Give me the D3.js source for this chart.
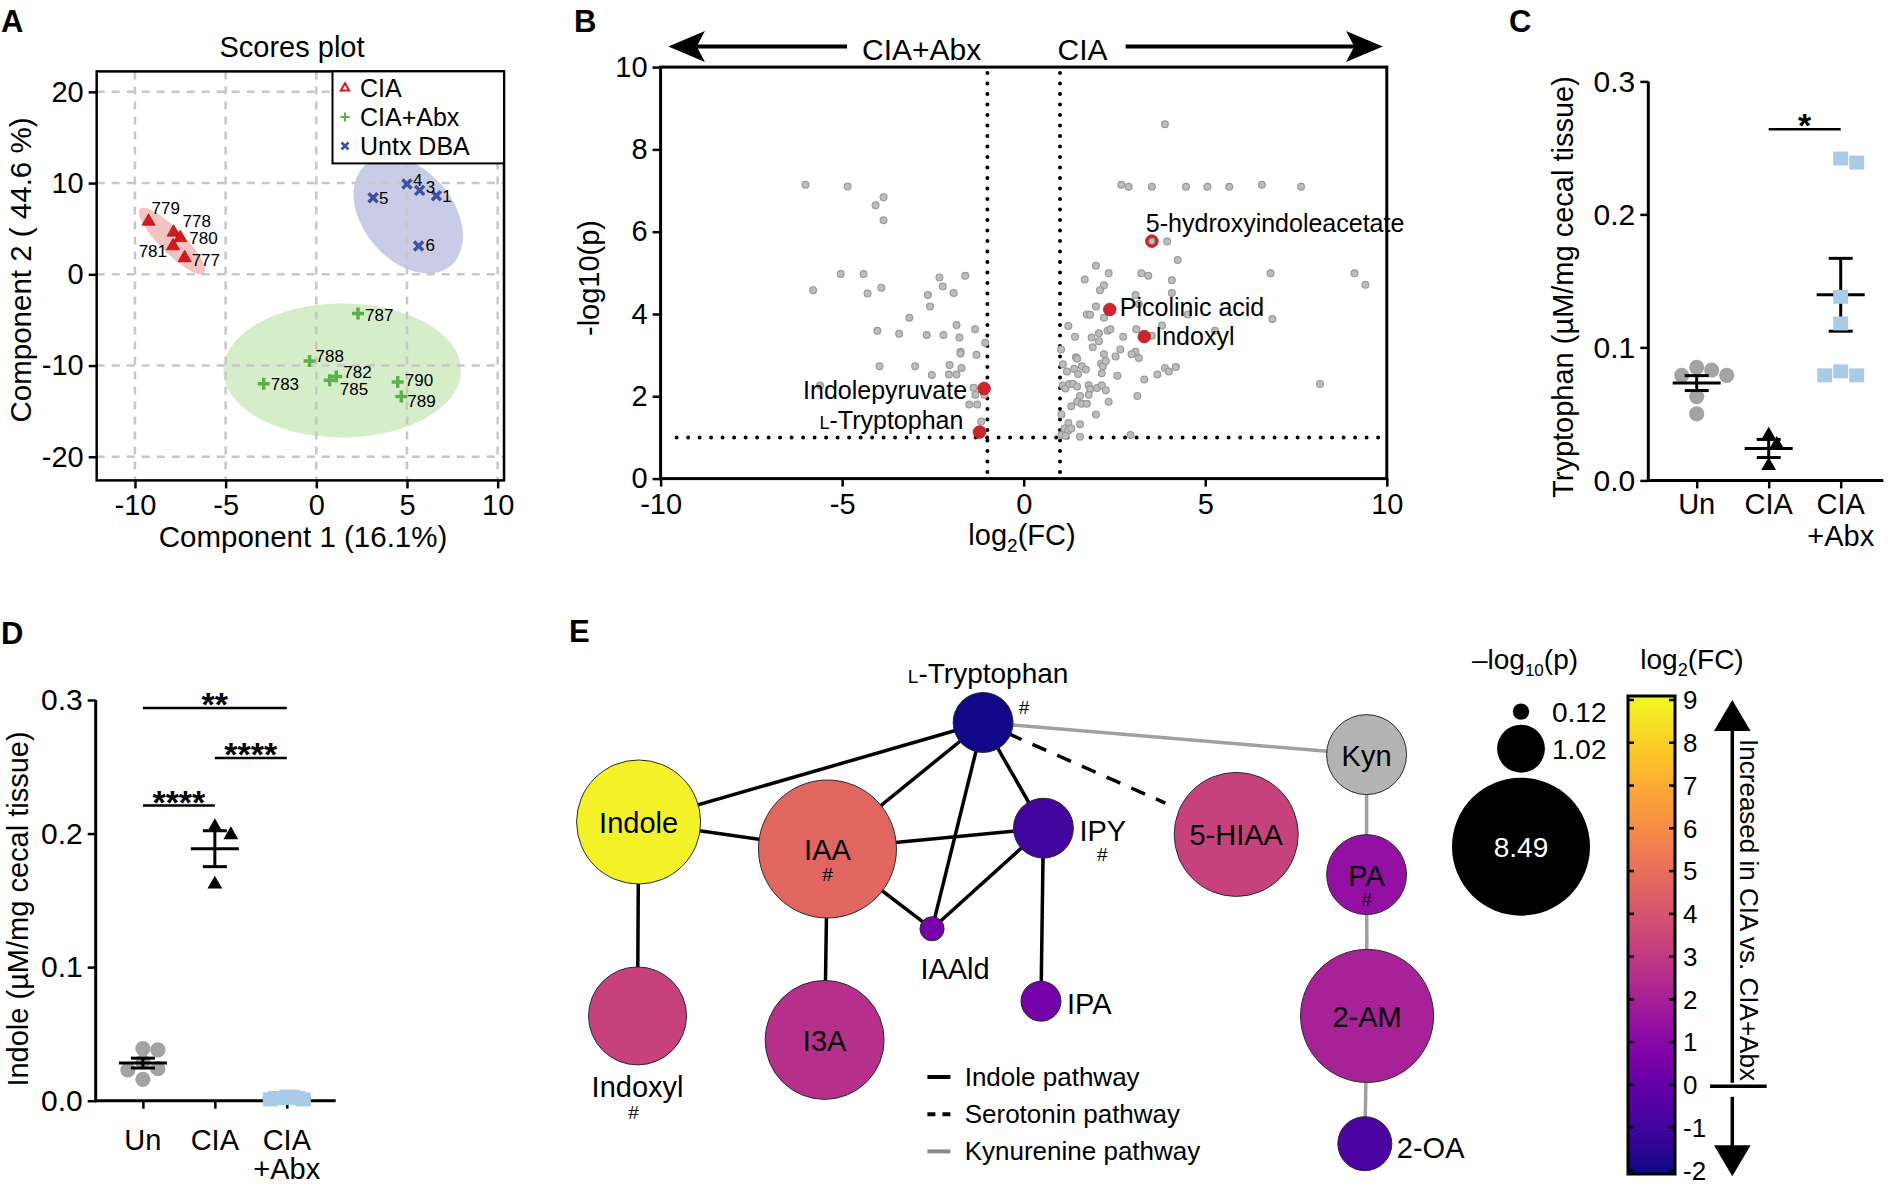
<!DOCTYPE html>
<html><head><meta charset="utf-8">
<script src="https://cdn.jsdelivr.net/npm/d3@7"></script>
<style>
body{margin:0;background:#fff;}
svg{display:block;}
</style></head><body>
<script>
// ===================== DATA =====================
// Panel A: PLS-DA scores
const pcaXTicks = [-10, -5, 0, 5, 10];
const pcaYTicks = [-20, -10, 0, 10, 20];
const pcaCIA  = [{id:"779",x:-9.25,y:5.8},{id:"778",x:-7.87,y:4.6},{id:"780",x:-7.5,y:4.0},{id:"781",x:-7.9,y:3.1},{id:"777",x:-7.26,y:1.8}];
const pcaAbx  = [{id:"787",x:2.3,y:-4.3},{id:"788",x:-0.37,y:-9.5},{id:"782",x:1.1,y:-11.2},{id:"785",x:0.74,y:-11.6},{id:"783",x:-2.9,y:-12.0},{id:"790",x:4.49,y:-11.8},{id:"789",x:4.69,y:-13.4}];
const pcaUntx = [{id:"4",x:5.0,y:9.9},{id:"3",x:5.7,y:9.2},{id:"1",x:6.62,y:8.6},{id:"5",x:3.13,y:8.4},{id:"6",x:5.64,y:3.1}];
// confidence ellipses (data units): centre, semi-axis vectors
const pcaEllipses = [
  {group:"CIA",      c:[-7.96, 3.65], u:[1.765,-3.53], v:[-0.47,-0.93]},
  {group:"Untx DBA", c:[5.07, 6.48],  u:[2.34,-5.54],  v:[-1.90,-3.17]},
  {group:"CIA+Abx",  c:[1.43,-10.54], u:[6.55,0],      v:[0,7.34]}
];
const pcaLegend = ["CIA","CIA+Abx","Untx DBA"];

// Panel B: volcano
const volXTicks = [-10,-5,0,5,10];
const volYTicks = [0,2,4,6,8,10];
const volcanoGray = [
[-6.01,7.14],[-4.85,7.10],[-4.08,6.64],[-3.86,6.84],[-3.86,6.28],[-5.04,4.97],[-4.41,4.97],[-5.80,4.58],[-4.30,4.50],[-3.92,4.64],
[-2.32,4.89],[-1.61,4.93],[-2.23,4.67],[-1.93,4.51],[-2.64,4.46],[-2.58,4.18],[-3.15,3.91],[-4.03,3.59],[-3.43,3.52],[-2.67,3.49],
[-2.21,3.49],[-1.85,3.73],[-1.77,3.43],[-1.34,3.63],[-1.06,3.30],[-1.74,3.08],[-1.74,3.04],[-1.30,3.01],[-3.97,2.73],[-2.99,2.73],
[-2.04,2.76],[-1.71,2.69],[-2.53,2.52],[-2.06,2.53],[-1.85,2.53],[-5.61,2.26],[-1.38,2.21],[-1.33,2.04],[-1.09,2.04],[-1.50,1.80],
[-1.28,1.80],[-1.17,1.39],[-1.14,1.17],
[3.89,8.61],[2.69,7.14],[2.89,7.09],[3.53,7.09],[4.47,7.09],[5.06,7.09],[5.66,7.09],[6.56,7.14],[7.64,7.09],[3.95,5.76],
[4.24,5.31],[1.99,5.17],[2.34,4.99],[3.24,4.99],[3.43,4.93],[4.08,4.82],[1.68,4.84],[2.21,4.70],[2.10,4.58],[3.08,4.46],
[4.08,4.51],[6.80,4.99],[9.11,4.99],[9.41,4.71],[1.99,4.18],[3.17,4.24],[1.74,3.99],[1.83,3.98],[2.21,3.91],[6.85,3.88],
[4.52,3.99],[1.23,3.71],[2.31,3.59],[2.39,3.63],[2.07,3.53],[3.10,3.63],[2.74,3.45],[3.53,3.47],[3.81,3.72],[5.27,3.59],
[1.41,3.45],[1.87,3.43],[2.07,3.34],[1.03,3.14],[1.90,3.19],[2.21,3.02],[2.66,3.14],[3.08,3.08],[2.53,2.97],[2.97,3.02],
[3.17,2.93],[1.08,2.78],[1.44,2.95],[1.47,2.91],[1.60,2.73],[2.13,2.80],[2.18,2.73],[2.26,2.86],[1.19,2.60],[1.39,2.67],
[1.50,2.54],[1.71,2.65],[2.15,2.56],[2.58,2.50],[3.32,2.41],[3.68,2.53],[3.89,2.69],[4.00,2.60],[4.19,2.71],[1.08,2.26],
[1.15,2.19],[1.26,2.30],[1.36,2.30],[1.47,2.24],[1.79,2.27],[1.83,2.17],[2.02,2.20],[2.15,2.27],[2.26,2.15],[8.16,2.30],
[1.55,2.01],[1.79,2.04],[1.47,1.87],[1.60,1.82],[1.74,1.82],[1.31,1.76],[2.34,1.87],[3.13,2.01],[1.04,1.56],[1.99,1.56],
[1.23,1.35],[1.55,1.32],[1.12,1.22],[1.23,1.17],[1.31,1.22],[1.04,1.06],[1.15,1.04],[1.55,1.02],[2.94,1.06]
];
const volcanoHits = [
  {name:"5-hydroxyindoleacetate", fc:3.53, p:5.77},
  {name:"Picolinic acid", fc:2.37, p:4.11},
  {name:"Indoxyl", fc:3.32, p:3.45},
  {name:"Indolepyruvate", fc:-1.09, p:2.19},
  {name:"L-Tryptophan", fc:-1.22, p:1.13}
];
const volFCcut = [-1, 1];
const volPcut = 1;

// Panels C & D
const groups = ["Un","CIA","CIA+Abx"];
const yTicksCD = [0, 0.1, 0.2, 0.3];
const trpUn  = [0.085, 0.083, 0.079, 0.079, 0.063, 0.050];
const trpCIA = [0.034, 0.027, 0.011];
const trpAbx = [0.242, 0.239, 0.138, 0.118, 0.079, 0.082, 0.079];
const indUn  = [0.039, 0.038, 0.029, 0.024, 0.023, 0.016];
const indCIA = [0.205, 0.199, 0.162];
const indAbx = [0.003, 0.002, 0.002, 0.001, 0.002, 0.003, 0.001];
const trpSig = [{from:"CIA", to:"CIA+Abx", label:"*", level:0.264}];
const indSig = [{from:"Un", to:"CIA+Abx", label:"**", level:0.294},
                {from:"CIA", to:"CIA+Abx", label:"****", level:0.2565},
                {from:"Un", to:"CIA", label:"****", level:0.221}];

// Panel E: network (log2FC colour, -log10 p size)
const netNodes = [
  {id:"Indole", fc:8.8, p:6.86}, {id:"IAA", fc:4.7, p:8.49}, {id:"L-Tryptophan", fc:-1.9, p:1.60},
  {id:"IPY", fc:-0.9, p:1.60}, {id:"5-HIAA", fc:3.3, p:6.86}, {id:"Kyn", fc:null, p:2.85},
  {id:"PA", fc:1.4, p:2.85}, {id:"2-AM", fc:2.05, p:7.89}, {id:"2-OA", fc:-0.65, p:1.30},
  {id:"IAAld", fc:0.55, p:0.26}, {id:"IPA", fc:0.5, p:0.71}, {id:"Indoxyl", fc:3.3, p:4.28},
  {id:"I3A", fc:2.6, p:6.31}
];
const netEdges = [
  ["L-Tryptophan","Indole","indole"],["L-Tryptophan","IAA","indole"],["L-Tryptophan","IAAld","indole"],
  ["L-Tryptophan","IPY","indole"],["Indole","IAA","indole"],["IAA","IPY","indole"],["IAA","IAAld","indole"],
  ["IPY","IAAld","indole"],["Indole","Indoxyl","indole"],["IAA","I3A","indole"],["IPY","IPA","indole"],
  ["L-Tryptophan","5-HIAA","serotonin"],
  ["L-Tryptophan","Kyn","kynurenine"],["Kyn","PA","kynurenine"],["PA","2-AM","kynurenine"],["2-AM","2-OA","kynurenine"]
];
const pathwayLegend = [["indole","Indole pathway"],["serotonin","Serotonin pathway"],["kynurenine","Kynurenine pathway"]];
const sizeLegend = [0.12, 1.02, 8.49];
const fcTicks = d3.range(-2, 10);

// ===================== SETUP =====================
const FONT = '"Liberation Sans", Arial, Helvetica, sans-serif';
const W = 1890, H = 1187;
const svg = d3.select("body").append("svg").attr("width", W).attr("height", H)
  .attr("font-family", FONT).style("background", "#fff");
const hyph = d => String(d);

function styleAxis(g, fs) {
  g.attr("font-family", FONT).attr("font-size", fs);
  g.select(".domain").remove();
  g.selectAll(".tick line").attr("stroke", "#000").attr("stroke-width", 2.5);
  g.selectAll(".tick text").attr("fill", "#000");
}
function panelLetter(t, x, y) {
  svg.append("text").attr("x", x).attr("y", y).attr("font-size", 31).attr("font-weight", "bold").text(t);
}
panelLetter("A", 1, 32); panelLetter("B", 574, 32); panelLetter("C", 1509, 32);
panelLetter("D", 1, 644); panelLetter("E", 569, 642);

// ===================== PANEL A =====================
(function () {
  const g = svg.append("g");
  const x = d3.scaleLinear().domain([-12.11, 10.35]).range([96.7, 504]);
  const y = d3.scaleLinear().domain([-22.59, 22.24]).range([480.4, 71.4]);
  const colors = {"CIA":"#d7191c", "CIA+Abx":"#5cb04a", "Untx DBA":"#3f4fa8"};
  const fills = {"CIA":"#f3c3c3", "CIA+Abx":"#d6edc9", "Untx DBA":"#c8cce6"};
  const line = d3.line().x(d => x(d[0])).y(d => y(d[1])).curve(d3.curveLinearClosed);
  pcaEllipses.forEach(e => {
    const pts = d3.range(0, 2 * Math.PI, Math.PI / 90).map(t => [
      e.c[0] + e.u[0] * Math.cos(t) + e.v[0] * Math.sin(t),
      e.c[1] + e.u[1] * Math.cos(t) + e.v[1] * Math.sin(t)]);
    g.append("path").attr("d", line(pts)).attr("fill", fills[e.group]);
  });
  const [x0, x1] = x.range(), [yb, yt] = y.range();
  pcaXTicks.forEach(t => g.append("line").attr("x1", x(t)).attr("x2", x(t)).attr("y1", yt).attr("y2", yb)
    .attr("stroke", "#c8c8c8").attr("stroke-width", 2.5).attr("stroke-dasharray", "8,7"));
  pcaYTicks.forEach(t => g.append("line").attr("y1", y(t)).attr("y2", y(t)).attr("x1", x0).attr("x2", x1)
    .attr("stroke", "#c8c8c8").attr("stroke-width", 2.5).attr("stroke-dasharray", "8,7"));
  g.append("g").attr("transform", `translate(0,${yb})`)
    .call(d3.axisBottom(x).tickValues(pcaXTicks).tickFormat(hyph).tickSize(8).tickPadding(6)).call(styleAxis, 29);
  g.append("g").attr("transform", `translate(${x0},0)`)
    .call(d3.axisLeft(y).tickValues(pcaYTicks).tickFormat(hyph).tickSize(8).tickPadding(5)).call(styleAxis, 29);
  g.append("rect").attr("x", x0).attr("y", yt).attr("width", x1 - x0).attr("height", yb - yt)
    .attr("fill", "none").attr("stroke", "#000").attr("stroke-width", 2.5);
  const lab = {"779":[3,-7,"start"],"778":[9,-5,"start"],"780":[9,6,"start"],"781":[-6,11,"end"],"777":[7,8,"start"],
    "5":[6,6],"4":[6,2],"3":[6,3],"1":[6,6],"6":[7,5],"787":[7,7],"788":[6,1],"782":[7,2],"785":[10,15],"783":[7,6],"790":[7,4],"789":[6,10]};
  const tri = d3.symbol().type(d3.symbolTriangle).size(75)();
  function labels(arr) {
    arr.forEach(d => {
      const o = lab[d.id];
      g.append("text").attr("x", x(d.x) + o[0]).attr("y", y(d.y) + o[1]).attr("font-size", 17)
        .attr("text-anchor", o[2] || "start").text(d.id);
    });
  }
  g.selectAll(".tri").data(pcaCIA).join("path").attr("d", tri)
    .attr("transform", d => `translate(${x(d.x)},${y(d.y)})`).attr("fill", colors["CIA"]).attr("stroke", "#b01015").attr("stroke-width", 0.8);
  g.selectAll(".plus").data(pcaAbx).join("path").attr("d", "M-6,0H6M0,-6V6")
    .attr("transform", d => `translate(${x(d.x)},${y(d.y)})`).attr("stroke", colors["CIA+Abx"]).attr("stroke-width", 3.5);
  g.selectAll(".cross").data(pcaUntx).join("path").attr("d", "M-4.5,-4.5L4.5,4.5M-4.5,4.5L4.5,-4.5")
    .attr("transform", d => `translate(${x(d.x)},${y(d.y)})`).attr("stroke", colors["Untx DBA"]).attr("stroke-width", 3.5);
  labels(pcaCIA); labels(pcaAbx); labels(pcaUntx);
  const lg = g.append("g");
  lg.append("rect").attr("x", 332.5).attr("y", yt).attr("width", x1 - 332.5).attr("height", 92)
    .attr("fill", "#fff").attr("stroke", "#000").attr("stroke-width", 2);
  pcaLegend.forEach((k, i) => {
    const cy = 88 + i * 29;
    if (k === "CIA") lg.append("path").attr("d", d3.symbol().type(d3.symbolTriangle).size(30)())
      .attr("transform", `translate(345,${cy})`).attr("fill", "#fff").attr("stroke", colors[k]).attr("stroke-width", 2);
    else if (k === "CIA+Abx") lg.append("path").attr("d", "M-4.5,0H4.5M0,-4.5V4.5")
      .attr("transform", `translate(345,${cy})`).attr("stroke", colors[k]).attr("stroke-width", 2);
    else lg.append("path").attr("d", "M-3.5,-3.5L3.5,3.5M-3.5,3.5L3.5,-3.5")
      .attr("transform", `translate(345,${cy})`).attr("stroke", colors[k]).attr("stroke-width", 2.5);
    lg.append("text").attr("x", 360).attr("y", cy + 9).attr("font-size", 25).text(k);
  });
  g.append("text").attr("x", 292).attr("y", 57).attr("text-anchor", "middle").attr("font-size", 29).text("Scores plot");
  g.append("text").attr("x", 303).attr("y", 547).attr("text-anchor", "middle").attr("font-size", 29.5).text("Component 1 (16.1%)");
  g.append("text").attr("transform", "translate(20,270) rotate(-90)").attr("text-anchor", "middle")
    .attr("dominant-baseline", "central").attr("font-size", 29.5).text("Component 2 ( 44.6 %)");
})();

// ===================== PANEL B =====================
(function () {
  const g = svg.append("g");
  const x = d3.scaleLinear().domain([-10, 10]).range([660.6, 1386.8]);
  const y = d3.scaleLinear().domain([0, 10]).range([478.6, 67.1]);
  const [x0, x1] = x.range(), [yb, yt] = y.range();
  volFCcut.forEach(c => g.append("line").attr("x1", x(c)).attr("x2", x(c)).attr("y1", yt + 6).attr("y2", yb)
    .attr("stroke", "#000").attr("stroke-width", 4).attr("stroke-linecap", "round").attr("stroke-dasharray", "0,10.5"));
  g.append("line").attr("x1", x0 + 16).attr("x2", x1 - 6).attr("y1", y(volPcut)).attr("y2", y(volPcut))
    .attr("stroke", "#000").attr("stroke-width", 4).attr("stroke-linecap", "round").attr("stroke-dasharray", "0,11.5");
  g.selectAll(".gp").data(volcanoGray).join("circle").attr("cx", d => x(d[0])).attr("cy", d => y(d[1])).attr("r", 3.4)
    .attr("fill", "#bdbdbd").attr("stroke", "#9a9a9a").attr("stroke-width", 1.2);
  g.selectAll(".rp").data(volcanoHits).join("circle").attr("cx", d => x(d.fc)).attr("cy", d => y(d.p)).attr("r", 6.3)
    .attr("fill", "#d2232a").attr("stroke", "#a51b20").attr("stroke-width", 0.8);
  g.append("circle").attr("cx", x(volcanoHits[0].fc)).attr("cy", y(volcanoHits[0].p)).attr("r", 3)
    .attr("fill", "#bdbdbd").attr("stroke", "#9a9a9a").attr("stroke-width", 1);
  const labPos = {"5-hydroxyindoleacetate":[-6,-9,"start"],"Picolinic acid":[10,6.5,"start"],"Indoxyl":[11,8,"start"],
    "Indolepyruvate":[-17,11,"end"],"L-Tryptophan":[-16,-3.5,"end"]};
  volcanoHits.forEach(d => {
    const o = labPos[d.name];
    const t = g.append("text").attr("x", x(d.fc) + o[0]).attr("y", y(d.p) + o[1]).attr("text-anchor", o[2]).attr("font-size", 25);
    if (d.name.startsWith("L-")) { t.append("tspan").attr("font-size", 18).text("L"); t.append("tspan").text(d.name.slice(1)); }
    else t.text(d.name);
  });
  g.append("g").attr("transform", `translate(0,${yb})`)
    .call(d3.axisBottom(x).tickValues(volXTicks).tickFormat(hyph).tickSize(8).tickPadding(7)).call(styleAxis, 29);
  g.append("g").attr("transform", `translate(${x0},0)`)
    .call(d3.axisLeft(y).tickValues(volYTicks).tickFormat(hyph).tickSize(8).tickPadding(5)).call(styleAxis, 29);
  g.append("rect").attr("x", x0).attr("y", yt).attr("width", x1 - x0).attr("height", yb - yt)
    .attr("fill", "none").attr("stroke", "#000").attr("stroke-width", 3);
  const ay = 46.5;
  g.append("line").attr("x1", 697).attr("x2", 847).attr("y1", ay).attr("y2", ay).attr("stroke", "#000").attr("stroke-width", 4);
  g.append("path").attr("d", `M668.3,${ay}L705,${ay - 15.5}L696.7,${ay}L705,${ay + 15.5}Z`).attr("fill", "#000");
  g.append("line").attr("x1", 1125.6).attr("x2", 1355).attr("y1", ay).attr("y2", ay).attr("stroke", "#000").attr("stroke-width", 4);
  g.append("path").attr("d", `M1382.8,${ay}L1346,${ay - 15.5}L1354.3,${ay}L1346,${ay + 15.5}Z`).attr("fill", "#000");
  g.append("text").attr("x", 921.7).attr("y", 60).attr("text-anchor", "middle").attr("font-size", 30).text("CIA+Abx");
  g.append("text").attr("x", 1082.6).attr("y", 60).attr("text-anchor", "middle").attr("font-size", 30).text("CIA");
  const xl = g.append("text").attr("x", 1022).attr("y", 545).attr("text-anchor", "middle").attr("font-size", 29);
  xl.append("tspan").text("log"); xl.append("tspan").attr("font-size", 19).attr("dy", 7).text("2");
  xl.append("tspan").attr("dy", -7).text("(FC)");
  g.append("text").attr("transform", "translate(589,278) rotate(-90)").attr("text-anchor", "middle")
    .attr("dominant-baseline", "central").attr("font-size", 29).text("-log10(p)");
})();

// ===================== PANELS C & D =====================
function swarm(vals, yScale, cx, minD, step) {
  const order = vals.map((v, i) => ({v, i})).sort((a, b) => b.v - a.v);
  const placed = [], out = new Array(vals.length);
  order.forEach(o => {
    const py = yScale(o.v); let px = cx;
    for (let k = 0; k < 40; k++) {
      const off = k === 0 ? 0 : (k % 2 ? 1 : -1) * Math.ceil(k / 2) * step;
      if (placed.every(p => Math.hypot(p[0] - (cx + off), p[1] - py) >= minD)) { px = cx + off; break; }
    }
    placed.push([px, py]); out[o.i] = [px, py];
  });
  return out;
}
function dotPlot(cfg) {
  const g = svg.append("g");
  const y = d3.scaleLinear().domain([0, 0.3]).range(cfg.yRange);
  const x = d3.scalePoint().domain(groups).range(cfg.xRange);
  const yb = y(0), yt = y(0.3);
  g.append("g").attr("transform", `translate(${cfg.axisX},0)`)
    .call(d3.axisLeft(y).tickValues(yTicksCD).tickFormat(d3.format(".1f")).tickSize(8).tickPadding(5)).call(styleAxis, 30);
  g.append("g").attr("transform", `translate(0,${yb})`)
    .call(d3.axisBottom(x).tickSize(8).tickFormat("")).call(styleAxis, 29);
  g.append("line").attr("x1", cfg.axisX).attr("x2", cfg.axisX).attr("y1", yt).attr("y2", yb + 1.5).attr("stroke", "#000").attr("stroke-width", 3);
  g.append("line").attr("x1", cfg.axisX - 1.5).attr("x2", cfg.axisEnd).attr("y1", yb).attr("y2", yb).attr("stroke", "#000").attr("stroke-width", 3);
  groups.forEach(k => {
    const parts = k === "CIA+Abx" ? ["CIA", "+Abx"] : [k];
    parts.forEach((p, i) => g.append("text").attr("x", x(k)).attr("y", cfg.labY + i * cfg.labGap)
      .attr("text-anchor", "middle").attr("font-size", 29).text(p));
  });
  const shapes = {"Un":"circle","CIA":"tri","CIA+Abx":"square"};
  const fillC = {"Un":"#a3a3a3","CIA":"#000","CIA+Abx":"#a9cbe8"};
  const linesOnTop = {"Un":true, "CIA":true, "CIA+Abx":false};
  cfg.series.forEach((vals, gi) => {
    const k = groups[gi];
    const sw = cfg.swarm[gi];
    const pos = swarm(vals, y, x(k), sw[0], sw[1]);
    const drawPts = () => pos.forEach(p => {
      if (shapes[k] === "circle") g.append("circle").attr("cx", p[0]).attr("cy", p[1]).attr("r", 7.6).attr("fill", fillC[k]);
      else if (shapes[k] === "tri") g.append("path").attr("d", d3.symbol().type(d3.symbolTriangle).size(95)())
        .attr("transform", `translate(${p[0]},${p[1]})`).attr("fill", "#000");
      else g.append("rect").attr("x", p[0] - 7.5).attr("y", p[1] - 7).attr("width", 15).attr("height", 14).attr("fill", fillC[k]);
    });
    const drawBars = () => {
      const m = d3.mean(vals), sem = d3.deviation(vals) / Math.sqrt(vals.length);
      const cx = x(k);
      g.append("line").attr("x1", cx - 24).attr("x2", cx + 24).attr("y1", y(m)).attr("y2", y(m)).attr("stroke", "#000").attr("stroke-width", 3);
      g.append("line").attr("x1", cx).attr("x2", cx).attr("y1", y(m - sem)).attr("y2", y(m + sem)).attr("stroke", "#000").attr("stroke-width", 3);
      [m - sem, m + sem].forEach(v => g.append("line").attr("x1", cx - 12).attr("x2", cx + 12).attr("y1", y(v)).attr("y2", y(v))
        .attr("stroke", "#000").attr("stroke-width", 3));
    };
    if (linesOnTop[k]) { drawPts(); drawBars(); } else { drawBars(); drawPts(); }
  });
  cfg.sig.forEach(s => {
    const yy = y(s.level);
    g.append("line").attr("x1", x(s.from)).attr("x2", x(s.to)).attr("y1", yy).attr("y2", yy).attr("stroke", "#000").attr("stroke-width", 2.5);
    g.append("text").attr("x", (x(s.from) + x(s.to)) / 2).attr("y", yy + 8).attr("text-anchor", "middle")
      .attr("font-size", 34).attr("font-weight", "bold").text(s.label);
  });
  g.append("text").attr("transform", `translate(${cfg.titleX},${cfg.titleY}) rotate(-90)`).attr("text-anchor", "middle")
    .attr("dominant-baseline", "central").attr("font-size", 29).text(cfg.title);
}
dotPlot({yRange:[480.4, 81.4], xRange:[1696.7, 1840.7], axisX:1648.3, axisEnd:1883.3, labY:514, labGap:32,
  series:[trpUn, trpCIA, trpAbx], swarm:[[12.5,7.5],[12,8],[14,8]], sig:trpSig,
  title:"Tryptophan (µM/mg cecal tissue)", titleX:1563, titleY:287});
dotPlot({yRange:[1100.7, 700], xRange:[142.9, 286.8], axisX:95.7, axisEnd:335.7, labY:1150, labGap:29,
  series:[indUn, indCIA, indAbx], swarm:[[12.5,7.5],[12,8],[5,5.5]], sig:indSig,
  title:"Indole (µM/mg cecal tissue)", titleX:18, titleY:909});

// ===================== PANEL E =====================
(function () {
  const g = svg.append("g");
  const lx = d3.scaleLinear().domain([0, 100]).range([570, 1410]);
  const ly = d3.scaleLinear().domain([0, 100]).range([680, 1180]);
  const layout = {"Indole":[8.17,28.4],"IAA":[30.65,33.8],"L-Tryptophan":[49.18,8.5],"IPY":[56.36,29.64],
    "5-HIAA":[79.31,30.88],"Kyn":[94.83,14.92],"PA":[94.83,38.92],"2-AM":[94.89,67.18],"2-OA":[94.62,92.74],
    "IAAld":[43.1,49.76],"IPA":[56.07,64.24],"Indoxyl":[8.04,67.18],"I3A":[30.31,71.98]};
  const r = d3.scaleSqrt().domain([0, 8.49]).range([0, 69]);
  const col = d3.scaleSequential(d3.interpolatePlasma).domain([-2, 9]);
  const N = {};
  netNodes.forEach(n => N[n.id] = Object.assign({}, n, {x: lx(layout[n.id][0]), y: ly(layout[n.id][1]), r: r(n.p)}));
  const edgeStyle = {indole:{c:"#000", d:null}, serotonin:{c:"#000", d:"15,12"}, kynurenine:{c:"#a0a0a0", d:null}};
  netEdges.forEach(e => {
    const a = N[e[0]], b = N[e[1]], s = edgeStyle[e[2]];
    let bx = b.x, by = b.y;
    if (e[2] === "serotonin") { const t = 0.72; bx = a.x + (b.x - a.x) * t; by = a.y + (b.y - a.y) * t; }
    g.append("line").attr("x1", a.x).attr("y1", a.y).attr("x2", bx).attr("y2", by)
      .attr("stroke", s.c).attr("stroke-width", 3.5).attr("stroke-dasharray", s.d);
  });
  Object.values(N).forEach(n => {
    g.append("circle").attr("cx", n.x).attr("cy", n.y).attr("r", n.r)
      .attr("fill", n.fc === null ? "#b3b3b3" : col(n.fc)).attr("stroke", "#2a2a2a").attr("stroke-width", 1);
  });
  const inside = ["Indole","IAA","5-HIAA","Kyn","PA","2-AM","I3A"];
  inside.forEach(id => {
    const n = N[id];
    g.append("text").attr("x", n.x).attr("y", n.y + 11).attr("text-anchor", "middle").attr("font-size", 29).text(id);
  });
  const hash = (x, y) => g.append("text").attr("x", x).attr("y", y).attr("text-anchor", "middle").attr("font-size", 19).text("#");
  hash(N["IAA"].x, N["IAA"].y + 32); hash(N["PA"].x, N["PA"].y + 31);
  const T = N["L-Tryptophan"];
  const tl = g.append("text").attr("x", T.x + 5).attr("y", T.y - T.r - 10).attr("text-anchor", "middle").attr("font-size", 28);
  tl.append("tspan").attr("font-size", 19).text("L"); tl.append("tspan").text("-Tryptophan");
  hash(T.x + T.r + 11, T.y - 9);
  const P = N["IPY"];
  g.append("text").attr("x", P.x + P.r + 6).attr("y", P.y + 13).attr("font-size", 29).text("IPY");
  hash(P.x + P.r + 29, P.y + 33);
  const Ald = N["IAAld"];
  g.append("text").attr("x", Ald.x + 23).attr("y", Ald.y + 50).attr("text-anchor", "middle").attr("font-size", 29).text("IAAld");
  const IPA = N["IPA"];
  g.append("text").attr("x", IPA.x + IPA.r + 6).attr("y", IPA.y + 13).attr("font-size", 29).text("IPA");
  const Ix = N["Indoxyl"];
  g.append("text").attr("x", Ix.x).attr("y", Ix.y + Ix.r + 32).attr("text-anchor", "middle").attr("font-size", 29).text("Indoxyl");
  hash(Ix.x - 4, Ix.y + Ix.r + 54);
  const OA = N["2-OA"];
  g.append("text").attr("x", OA.x + OA.r + 5).attr("y", OA.y + 14).attr("font-size", 29).text("2-OA");
  pathwayLegend.forEach((p, i) => {
    const yy = 1077 + i * 37.2, s = edgeStyle[p[0]];
    g.append("line").attr("x1", 927.4).attr("x2", 950.4).attr("y1", yy).attr("y2", yy)
      .attr("stroke", s.c === "#000" ? "#000" : "#8a8a8a").attr("stroke-width", 4).attr("stroke-dasharray", s.d ? "8,7" : null);
    g.append("text").attr("x", 964.7).attr("y", yy + 8.5).attr("font-size", 26).text(p[1]);
  });
  const lt = g.append("text").attr("x", 1525).attr("y", 669).attr("text-anchor", "middle").attr("font-size", 28);
  lt.append("tspan").text("–log"); lt.append("tspan").attr("font-size", 17).attr("dy", 7).text("10");
  lt.append("tspan").attr("dy", -7).text("(p)");
  let cyAcc = 703;
  sizeLegend.forEach((v, i) => {
    const rr = r(v);
    const cy = i === 0 ? 711.6 : cyAcc + rr;
    cyAcc = cy + rr + 5;
    g.append("circle").attr("cx", 1521).attr("cy", cy).attr("r", rr).attr("fill", "#000");
    if (i < 2) g.append("text").attr("x", 1552).attr("y", cy + 10).attr("font-size", 28).text(v.toFixed(2));
    else g.append("text").attr("x", 1521).attr("y", cy + 10).attr("text-anchor", "middle").attr("font-size", 28).attr("fill", "#fff").text(v.toFixed(2));
  });
  const cb = d3.scaleLinear().domain([-2, 9]).range([1170.4, 700]);
  const defs = svg.append("defs");
  const grad = defs.append("linearGradient").attr("id", "plasma").attr("x1", 0).attr("x2", 0).attr("y1", 1).attr("y2", 0);
  d3.range(0, 1.0001, 0.05).forEach(t => grad.append("stop").attr("offset", t).attr("stop-color", d3.interpolatePlasma(t)));
  const bx0 = 1628, bx1 = 1675, by0 = 696, by1 = 1174;
  g.append("rect").attr("x", bx0).attr("y", by0).attr("width", bx1 - bx0).attr("height", by1 - by0)
    .attr("fill", "url(#plasma)").attr("stroke", "#000").attr("stroke-width", 3);
  fcTicks.forEach(t => {
    g.append("line").attr("x1", bx0).attr("x2", bx0 + 6).attr("y1", cb(t)).attr("y2", cb(t)).attr("stroke", "#000").attr("stroke-width", 2.5);
    g.append("line").attr("x1", bx1 - 6).attr("x2", bx1).attr("y1", cb(t)).attr("y2", cb(t)).attr("stroke", "#000").attr("stroke-width", 2.5);
    g.append("text").attr("x", 1683).attr("y", cb(t)).attr("dy", "0.36em").attr("font-size", 26).text(t);
  });
  const ct = g.append("text").attr("x", 1692).attr("y", 669).attr("text-anchor", "middle").attr("font-size", 28);
  ct.append("tspan").text("log"); ct.append("tspan").attr("font-size", 18).attr("dy", 7).text("2");
  ct.append("tspan").attr("dy", -7).text("(FC)");
  const ax = 1732.3;
  g.append("line").attr("x1", ax).attr("x2", ax).attr("y1", 728).attr("y2", cb(0) - 2).attr("stroke", "#000").attr("stroke-width", 3.5);
  g.append("path").attr("d", `M${ax},700L${ax - 18.3},731L${ax + 18.3},731Z`).attr("fill", "#000");
  g.append("line").attr("x1", 1710).attr("x2", 1766.7).attr("y1", cb(0) + 1.5).attr("y2", cb(0) + 1.5).attr("stroke", "#000").attr("stroke-width", 3.5);
  g.append("line").attr("x1", ax).attr("x2", ax).attr("y1", 1096.8).attr("y2", 1148).attr("stroke", "#000").attr("stroke-width", 3.5);
  g.append("path").attr("d", `M${ax},1176.2L${ax - 18.3},1145.2L${ax + 18.3},1145.2Z`).attr("fill", "#000");
  g.append("text").attr("transform", "translate(1740,910) rotate(90)").attr("text-anchor", "middle").attr("font-size", 26)
    .text("Increased in CIA vs. CIA+Abx");
})();
</script></body></html>
